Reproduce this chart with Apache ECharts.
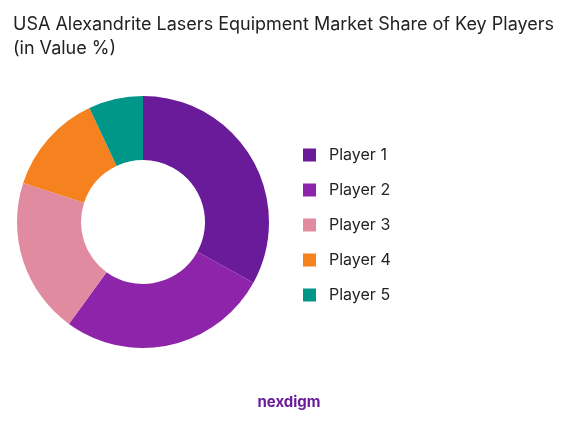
<!DOCTYPE html>
<html>
<head>
<meta charset="utf-8">
<script src="https://cdn.jsdelivr.net/npm/echarts@6/dist/echarts.min.js"></script>
<style>body{margin:0;background:#fff}#c{width:578px;height:423px}</style>
</head>
<body>
<div id="c"></div>
<script>
const players = ['Player 1', 'Player 2', 'Player 3', 'Player 4', 'Player 5'];
const shares = [33, 27, 20, 13, 7];
const colors = ['#6a1b9a', '#8e24aa', '#e08ba0', '#f5821f', '#009688'];

const chart = echarts.init(document.getElementById('c'));
chart.setOption({
  title: {
    text: 'USA Alexandrite Lasers Equipment Market Share of Key Players\n(in Value %)',
    left: 8, top: 8,
    textStyle: { fontFamily: 'Inter', fontSize: 18, fontWeight: 'normal', color: '#222', lineHeight: 24 }
  },
  legend: {
    orient: 'vertical', left: 298, top: 142, itemGap: 19,
    icon: 'rect', itemWidth: 13, itemHeight: 13,
    textStyle: { fontFamily: 'Inter', fontSize: 16, color: '#222', padding: [0, 0, 0, 8] },
    data: players
  },
  graphic: [{
    type: 'text', left: 'center', top: 395,
    style: { text: 'nexdigm', fontFamily: 'Inter', fontSize: 15, fontWeight: 'bold', fill: '#6a1b9a' }
  }],
  series: [{
    type: 'pie',
    center: [143, 222], radius: [62, 126],
    startAngle: 90, clockwise: true,
    label: { show: false },
    silent: true,
    data: players.map((p, i) => ({ name: p, value: shares[i], itemStyle: { color: colors[i] } }))
  }]
});
</script>
</body>
</html>
